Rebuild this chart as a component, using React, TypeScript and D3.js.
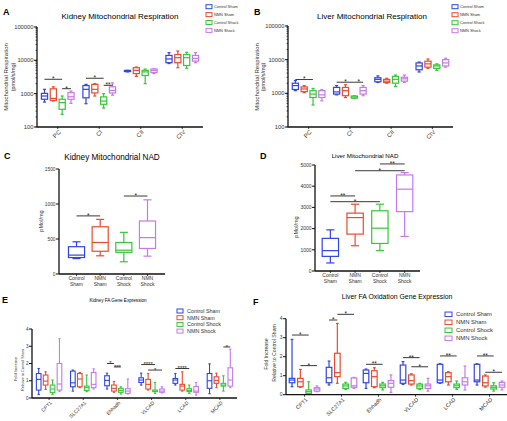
import React from "react"
import * as d3 from "d3"

const FONT = "'Liberation Sans', Arial, Helvetica, sans-serif"

const seriesNames = ["Control Sham", "NMN Sham", "Control Shock", "NMN Shock"]
const seriesColors = ["#2f45e4", "#ea4b2e", "#37c637", "#c47ae8"]

// every box is [min, q1, median, q3, max]
const respCats = ["PC", "CI", "CII", "CIV"]
const kidResCtrlSham = [[560, 680, 850, 1020, 1350], [500, 750, 1350, 1750, 1900], [4500, 4600, 4800, 5000, 5000], [8000, 8500, 11000, 14000, 17000]]
const kidResNmnSham = [[600, 630, 720, 1400, 1600], [850, 1050, 1350, 1900, 2000], [3300, 4000, 5000, 6000, 6300], [6000, 8500, 12000, 15000, 19000]]
const kidResCtrlShock = [[240, 340, 540, 680, 850], [370, 480, 600, 800, 1000], [2000, 3500, 4500, 5000, 5500], [5800, 7000, 12000, 15000, 17500]]
const kidResNmnShock = [[510, 680, 810, 1070, 1200], [900, 1050, 1250, 1600, 2100], [4000, 4300, 5000, 5500, 5600], [8500, 9500, 11500, 14000, 17000]]

const livResCtrlSham = [[1200, 1300, 1700, 2000, 2400], [900, 950, 1100, 1500, 1700], [2100, 2200, 2600, 2900, 3300], [4300, 5000, 6500, 8000, 8500]]
const livResNmnSham = [[1050, 1120, 1350, 1550, 1700], [750, 850, 1200, 1500, 1800], [2000, 2100, 2300, 2600, 2800], [5500, 6000, 7500, 9000, 10500]]
const livResCtrlShock = [[450, 750, 950, 1200, 1400], [700, 720, 780, 830, 850], [1600, 2000, 2600, 3200, 3500], [4800, 5500, 6500, 7000, 7500]]
const livResNmnShock = [[600, 750, 900, 1200, 1300], [850, 950, 1200, 1500, 1700], [2100, 2300, 2700, 3000, 3500], [6000, 6500, 8000, 10000, 11000]]

const nadCats = ["Control Sham", "NMN Sham", "Control Shock", "NMN Shock"]
const kidNad = [[220, 235, 270, 390, 460], [260, 325, 450, 675, 780], [175, 310, 340, 450, 595], [255, 365, 520, 757, 1060]]
const livNad = [[380, 690, 960, 1540, 1940], [1190, 1740, 2520, 2730, 3150], [960, 1300, 2020, 2840, 3150], [1630, 2800, 3860, 4530, 4640]]

const geneCats = ["CPT1", "SLC27A1", "Ehhadh", "VLCAD", "LCAD", "MCAD"]
const kidGeneCtrlSham = [[0.2, 0.46, 1.08, 1.42, 1.71], [0.4, 0.65, 0.88, 1.56, 1.62], [0.52, 0.71, 1.02, 1.29, 1.44], [0.75, 0.9, 1.04, 1.17, 1.44], [0.75, 0.85, 1.04, 1.13, 1.42], [0.25, 0.56, 1.0, 1.42, 1.98]]
const kidGeneNmnSham = [[0.5, 0.75, 0.98, 1.33, 1.52], [0.6, 0.65, 1.1, 1.42, 1.48], [0.33, 0.4, 0.56, 0.75, 0.96], [0.46, 0.52, 0.79, 1.08, 1.42], [0.4, 0.46, 0.69, 0.79, 1.52], [0.6, 0.85, 1.02, 1.23, 1.44]]
const kidGeneCtrlShock = [[0.21, 0.31, 0.52, 0.75, 1.04], [0.37, 0.44, 0.6, 0.69, 1.33], [0.23, 0.33, 0.44, 0.56, 0.65], [0.27, 0.37, 0.4, 0.46, 0.9], [0.27, 0.37, 0.44, 0.54, 0.75], [0.4, 0.69, 0.75, 0.85, 1.29]]
const kidGeneNmnShock = [[0.37, 0.46, 0.81, 2.0, 3.44], [0.52, 0.6, 0.79, 1.48, 1.69], [0.23, 0.27, 0.4, 0.54, 1.1], [0.29, 0.33, 0.4, 0.52, 0.65], [0.17, 0.33, 0.4, 0.67, 0.9], [0.6, 0.69, 1.04, 1.75, 2.83]]

const livGeneCtrlSham = [[0.42, 0.63, 0.77, 0.86, 2.91], [0.51, 0.63, 0.89, 1.44, 1.77], [0.33, 0.63, 1.12, 1.3, 1.35], [0.54, 0.6, 0.77, 1.56, 1.74], [0.6, 0.63, 0.77, 1.6, 1.63], [0.51, 0.68, 0.77, 1.6, 1.63]]
const livGeneNmnSham = [[0.39, 0.42, 0.68, 0.86, 1.33], [0.6, 0.95, 1.16, 2.18, 3.75], [0.37, 0.42, 0.95, 1.26, 1.42], [0.51, 0.56, 0.74, 1.04, 1.1], [0.51, 0.68, 0.95, 1.16, 1.21], [0.4, 0.46, 0.63, 0.98, 1.04]]
const livGeneCtrlShock = [[0.04, 0.07, 0.16, 0.25, 0.68], [0.28, 0.33, 0.46, 0.56, 0.65], [0.25, 0.37, 0.47, 0.56, 0.65], [0.28, 0.33, 0.46, 0.56, 0.6], [0.28, 0.37, 0.47, 0.56, 0.72], [0.19, 0.3, 0.39, 0.47, 0.63]]
const livGeneNmnShock = [[0.16, 0.19, 0.3, 0.37, 0.46], [0.33, 0.39, 0.47, 0.88, 0.91], [0.12, 0.39, 0.6, 0.74, 1.04], [0.19, 0.33, 0.47, 0.56, 0.86], [0.25, 0.51, 0.68, 0.89, 1.51], [0.25, 0.39, 0.51, 0.65, 0.72]]

// significance bars: category, from series, to series, height, stars
const kidResSigs = [
  { cat: 0, a: 0, b: 2, v: 2700, label: "*" },
  { cat: 0, a: 2, b: 3, v: 1410, label: "*" },
  { cat: 1, a: 0, b: 2, v: 2900, label: "*" },
  { cat: 1, a: 2, b: 3, v: 1780, label: "**" },
]
const livResSigs = [
  { cat: 0, a: 0, b: 2, v: 2570, label: "*" },
  { cat: 1, a: 0, b: 2, v: 2140, label: "*" },
  { cat: 1, a: 2, b: 3, v: 2140, label: "*" },
]
const kidNadSigs = [
  { cat: 0, a: 0, b: 1, v: 830, label: "*" },
  { cat: 0, a: 2, b: 3, v: 1114, label: "*" },
]
const livNadSigs = [
  { cat: 0, a: 0, b: 1, v: 3540, label: "**" },
  { cat: 0, a: 0, b: 2, v: 3270, label: "*" },
  { cat: 0, a: 1, b: 3, v: 4730, label: "*" },
  { cat: 0, a: 2, b: 3, v: 5050, label: "**" },
]
const kidGeneSigs = [
  { cat: 2, a: 0, b: 1, v: 2.0, label: "*" },
  { cat: 2, a: 1, b: 2, v: 1.8, label: "***" },
  { cat: 3, a: 0, b: 2, v: 1.94, label: "****" },
  { cat: 3, a: 1, b: 3, v: 1.62, label: "*" },
  { cat: 4, a: 0, b: 2, v: 1.71, label: "****" },
  { cat: 5, a: 2, b: 3, v: 2.96, label: "*" },
]
const livGeneSigs = [
  { cat: 0, a: 0, b: 2, v: 3.14, label: "*" },
  { cat: 0, a: 1, b: 3, v: 1.53, label: "*" },
  { cat: 1, a: 0, b: 1, v: 3.93, label: "*" },
  { cat: 1, a: 1, b: 3, v: 4.23, label: "*" },
  { cat: 2, a: 0, b: 2, v: 1.6, label: "**" },
  { cat: 3, a: 0, b: 2, v: 1.95, label: "**" },
  { cat: 3, a: 1, b: 3, v: 1.47, label: "*" },
  { cat: 4, a: 0, b: 2, v: 2.04, label: "**" },
  { cat: 5, a: 0, b: 2, v: 2.04, label: "**" },
  { cat: 5, a: 1, b: 3, v: 1.18, label: "*" },
]

type Sig = { cat: number; a: number; b: number; v: number; label: string }

function BoxMark({ cx, w, b, y, color, sw }: { cx: number; w: number; b: number[]; y: any; color: string; sw: number }) {
  const [mn, q1, md, q3, mx] = b
  const cap = w * 0.5
  return (
    <g stroke={color} strokeWidth={sw} fill="none">
      <line x1={cx} x2={cx} y1={y(mx)} y2={y(q3)} />
      <line x1={cx} x2={cx} y1={y(q1)} y2={y(mn)} />
      <line x1={cx - cap / 2} x2={cx + cap / 2} y1={y(mx)} y2={y(mx)} />
      <line x1={cx - cap / 2} x2={cx + cap / 2} y1={y(mn)} y2={y(mn)} />
      <rect x={cx - w / 2} y={y(q3)} width={w} height={Math.max(0.5, y(q1) - y(q3))} fill="white" />
      <line x1={cx - w / 2} x2={cx + w / 2} y1={y(md)} y2={y(md)} />
    </g>
  )
}

function SigBar({ x1, x2, yv, label, fs }: { x1: number; x2: number; yv: number; label: string; fs: number }) {
  return (
    <g>
      <line x1={x1} x2={x2} y1={yv} y2={yv} stroke="#222" strokeWidth={0.9} />
      <text x={(x1 + x2) / 2} y={yv + fs * 0.3} textAnchor="middle" fontSize={fs} fill="#222">
        {label}
      </text>
    </g>
  )
}

function Legend({ x, y, dy, fs, rw, rh, tx }: { x: number; y: number; dy: number; fs: number; rw: number; rh: number; tx: number }) {
  return (
    <g>
      {seriesNames.map((n, i) => (
        <g key={n}>
          <rect x={x} y={y + i * dy - rh / 2} width={rw} height={rh} fill="none" stroke={seriesColors[i]} strokeWidth={1} />
          <text x={tx} y={y + i * dy} dy="0.35em" fontSize={fs} fill="#333">
            {n}
          </text>
        </g>
      ))}
    </g>
  )
}

function YAxis({ x, y, labels, minor, fs, fmt }: { x: number; y: any; labels: number[]; minor?: number[]; fs: number; fmt: (v: number) => string }) {
  const [y0, y1] = y.range()
  return (
    <g>
      <line x1={x} x2={x} y1={y0} y2={y1} stroke="#111" strokeWidth={1.3} />
      {(minor ?? []).map((t, i) => (
        <line key={"m" + i} x1={x - 1.5} x2={x} y1={y(t)} y2={y(t)} stroke="#111" strokeWidth={0.7} />
      ))}
      {labels.map((t) => (
        <g key={t}>
          <line x1={x - 3} x2={x} y1={y(t)} y2={y(t)} stroke="#111" strokeWidth={1} />
          <text x={x - 3.5} y={y(t)} dy="0.35em" textAnchor="end" fontSize={fs} fill="#333">
            {fmt(t)}
          </text>
        </g>
      ))}
    </g>
  )
}

function GroupedPanel(p: {
  x0: number
  x1: number
  y: any
  labels: number[]
  minor?: number[]
  fmt: (v: number) => string
  cats: string[]
  data: number[][][]
  sigs: Sig[]
  inner: number
  pad: number
  sw: number
  tickFs: number
  catFs: number
  sigFs: number
}) {
  const xb = d3.scaleBand().domain(p.cats).range([p.x0, p.x1])
  const xs = d3.scaleBand<number>().domain([0, 1, 2, 3]).range([-p.inner, p.inner]).padding(p.pad)
  const cc = (ci: number) => xb(p.cats[ci])! + xb.bandwidth() / 2
  const cx = (ci: number, si: number) => cc(ci) + xs(si)! + xs.bandwidth() / 2
  const yb = p.y.range()[0]
  return (
    <g>
      {p.data.map((series, si) =>
        series.map((b, ci) => (
          <BoxMark key={si + "-" + ci} cx={cx(ci, si)} w={xs.bandwidth()} b={b} y={p.y} color={seriesColors[si]} sw={p.sw} />
        ))
      )}
      {p.sigs.map((s, i) => (
        <SigBar key={i} x1={cx(s.cat, s.a)} x2={cx(s.cat, s.b)} yv={p.y(s.v)} label={s.label} fs={p.sigFs} />
      ))}
      <YAxis x={p.x0} y={p.y} labels={p.labels} minor={p.minor} fs={p.tickFs} fmt={p.fmt} />
      <line x1={p.x0} x2={p.x1} y1={yb} y2={yb} stroke="#111" strokeWidth={1.3} />
      {p.cats.map((c, ci) => (
        <g key={c}>
          <line x1={cc(ci)} x2={cc(ci)} y1={yb} y2={yb + 2} stroke="#111" strokeWidth={0.8} />
          <text transform={`translate(${cc(ci) + 2},${yb + 4}) rotate(-45)`} textAnchor="end" dy="0.35em" fontSize={p.catFs} fill="#333">
            {c}
          </text>
        </g>
      ))}
    </g>
  )
}

function SinglePanel(p: {
  x0: number
  x1: number
  y: any
  labels: number[]
  cats: string[]
  data: number[][]
  sigs: Sig[]
  pad: number
  boxFrac: number
  sw: number
  tickFs: number
  catFs: number
  sigFs: number
}) {
  const xp = d3.scalePoint().domain(p.cats).range([p.x0, p.x1]).padding(p.pad)
  const w = xp.step() * p.boxFrac
  const cx = (ci: number) => xp(p.cats[ci])!
  const yb = p.y.range()[0]
  return (
    <g>
      {p.data.map((b, ci) => (
        <BoxMark key={ci} cx={cx(ci)} w={w} b={b} y={p.y} color={seriesColors[ci]} sw={p.sw} />
      ))}
      {p.sigs.map((s, i) => (
        <SigBar key={i} x1={cx(s.a)} x2={cx(s.b)} yv={p.y(s.v)} label={s.label} fs={p.sigFs} />
      ))}
      <YAxis x={p.x0} y={p.y} labels={p.labels} fs={p.tickFs} fmt={(v) => String(v)} />
      <line x1={p.x0} x2={p.x1} y1={yb} y2={yb} stroke="#111" strokeWidth={1.3} />
      {p.cats.map((c, ci) => (
        <g key={c}>
          <line x1={cx(ci)} x2={cx(ci)} y1={yb} y2={yb + 2} stroke="#111" strokeWidth={0.8} />
          {c.split(" ").map((part, k) => (
            <text key={k} x={cx(ci)} y={yb + 6 + k * p.catFs * 1.15} textAnchor="middle" fontSize={p.catFs} fill="#333">
              {part}
            </text>
          ))}
        </g>
      ))}
    </g>
  )
}

function VLabel({ x, y, fs, text }: { x: number; y: number; fs: number; text: string }) {
  return (
    <text transform={`translate(${x},${y}) rotate(-90)`} textAnchor="middle" fontSize={fs} fill="#333">
      {text}
    </text>
  )
}

export default function App() {
  const yA = d3.scaleLog().domain([100, 100000]).range([127, 27])
  const yB = d3.scaleLog().domain([100, 100000]).range([127, 26])
  const logLabels = [100, 1000, 10000, 100000]
  const logMinor = yA.ticks()
  const yC = d3.scaleLinear().domain([0, 1500]).range([274, 169])
  const yD = d3.scaleLinear().domain([0, 5000]).range([271, 165])
  const yE = d3.scaleLinear().domain([0, 4]).range([398, 329])
  const yF = d3.scaleLinear().domain([0, 4]).range([394.7, 318.7])

  return (
    <svg width={507} height={421} style={{ position: "absolute", left: 0, top: 0, background: "white", fontFamily: FONT }}>
      {/* A */}
      <text x={3} y={15} fontSize={9} fontWeight="bold">A</text>
      <text x={120} y={19} textAnchor="middle" fontSize={8}>Kidney Mitochondrial Respiration</text>
      <Legend x={206} y={6.7} dy={7.9} fs={3.9} rw={6} rh={4} tx={214} />
      <VLabel x={8} y={77} fs={6} text="Mitochondrial Respiration" />
      <VLabel x={15} y={77} fs={5.4} text="(pmol/s/mg)" />
      <GroupedPanel x0={37} x1={203} y={yA} labels={logLabels} minor={logMinor} fmt={(v) => String(v)} cats={respCats}
        data={[kidResCtrlSham, kidResNmnSham, kidResCtrlShock, kidResNmnShock]} sigs={kidResSigs}
        inner={19} pad={0.3} sw={1.2} tickFs={5.8} catFs={6} sigFs={6.5} />

      {/* B */}
      <text x={254} y={15} fontSize={9} fontWeight="bold">B</text>
      <text x={372} y={19} textAnchor="middle" fontSize={8}>Liver Mitochondrial Respiration</text>
      <Legend x={452} y={6.7} dy={8} fs={3.9} rw={6} rh={4} tx={460} />
      <VLabel x={258.5} y={77} fs={6} text="Mitochondrial Respiration" />
      <VLabel x={265} y={77} fs={5.4} text="(pmol/s/mg)" />
      <GroupedPanel x0={288} x1={453} y={yB} labels={logLabels} minor={logMinor} fmt={(v) => String(v)} cats={respCats}
        data={[livResCtrlSham, livResNmnSham, livResCtrlShock, livResNmnShock]} sigs={livResSigs}
        inner={19} pad={0.3} sw={1.2} tickFs={5.8} catFs={6} sigFs={6.5} />

      {/* C */}
      <text x={4} y={159} fontSize={9} fontWeight="bold">C</text>
      <text x={112} y={160} textAnchor="middle" fontSize={8.2}>Kidney Mitochondrial NAD</text>
      <VLabel x={43} y={221} fs={5.6} text="pMol/mg" />
      <SinglePanel x0={59} x1={165} y={yC} labels={yC.ticks(3)} cats={nadCats} data={kidNad} sigs={kidNadSigs}
        pad={0.74} boxFrac={0.68} sw={1.2} tickFs={4.8} catFs={5} sigFs={6.5} />

      {/* D */}
      <text x={260} y={159} fontSize={9} fontWeight="bold">D</text>
      <text x={365} y={158} textAnchor="middle" fontSize={6.2}>Liver Mitochondrial NAD</text>
      <VLabel x={298} y={227} fs={5.6} text="pMol/mg" />
      <SinglePanel x0={315} x1={420} y={yD} labels={yD.ticks(5)} cats={nadCats} data={livNad} sigs={livNadSigs}
        pad={0.62} boxFrac={0.66} sw={1.2} tickFs={5} catFs={5} sigFs={6.5} />

      {/* E */}
      <text x={2} y={303} fontSize={9} fontWeight="bold">E</text>
      <text x={118} y={302} textAnchor="middle" fontSize={4.6}>Kidney FA Gene Expression</text>
      <Legend x={177} y={311} dy={6.7} fs={5.4} rw={6} rh={4} tx={187} />
      <VLabel x={17} y={369} fs={4} text="Fold Increase" />
      <VLabel x={23.5} y={370} fs={3.8} text="Relative to Control Sham" />
      <GroupedPanel x0={32} x1={237} y={yE} labels={yE.ticks(4)} fmt={(v) => String(v)} cats={geneCats}
        data={[kidGeneCtrlSham, kidGeneNmnSham, kidGeneCtrlShock, kidGeneNmnShock]} sigs={kidGeneSigs}
        inner={15} pad={0.33} sw={1.1} tickFs={4.6} catFs={5} sigFs={6} />

      {/* F */}
      <text x={253} y={305} fontSize={9} fontWeight="bold">F</text>
      <text x={397} y={299} textAnchor="middle" fontSize={6.9}>Liver FA Oxidation Gene Expression</text>
      <Legend x={445} y={314.3} dy={8} fs={5.9} rw={7} rh={4.5} tx={456} />
      <VLabel x={267.5} y={354} fs={5.2} text="Fold Increase" />
      <VLabel x={276} y={353} fs={5.2} text="Relative to Control Sham" />
      <GroupedPanel x0={286} x1={508} y={yF} labels={yF.ticks(4)} fmt={(v) => String(v)} cats={geneCats}
        data={[livGeneCtrlSham, livGeneNmnSham, livGeneCtrlShock, livGeneNmnShock]} sigs={livGeneSigs}
        inner={18} pad={0.33} sw={1.2} tickFs={5} catFs={5.4} sigFs={6.5} />
    </svg>
  )
}
